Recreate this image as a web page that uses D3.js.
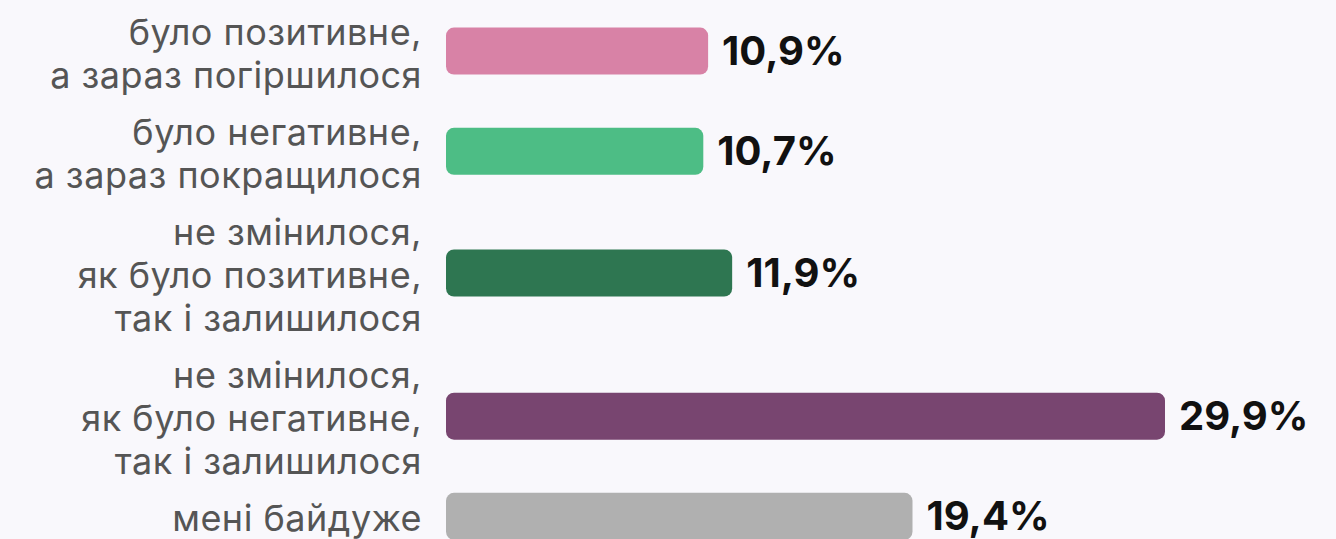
<!DOCTYPE html>
<html>
<head>
<meta charset="utf-8">
<script src="https://cdn.jsdelivr.net/npm/d3@7"></script>
<style>
  html, body { margin: 0; padding: 0; background: #f9f8fc; }
  svg { display: block; }
</style>
</head>
<body>
<svg id="chart" width="1336" height="539"></svg>
<script>
// DATA
const categories = [
  ["було позитивне,", "а зараз погіршилося"],
  ["було негативне,", "а зараз покращилося"],
  ["не змінилося,", "як було позитивне,", "так і залишилося"],
  ["не змінилося,", "як було негативне,", "так і залишилося"],
  ["мені байдуже"]
];
const values = [10.9, 10.7, 11.9, 29.9, 19.4];
const valueLabels = ["10,9%", "10,7%", "11,9%", "29,9%", "19,4%"];
const colors = ["#d882a6", "#4dbd85", "#2e7651", "#784570", "#b0b0b0"];

// CANVAS SETUP
const svg = d3.select("#chart");
const lineH = 43,
  gapUnits = 0.33,
  barH = 47,
  x0 = 446,
  labelX = 422;

// each block is as tall as its label lines plus a gap
const blocks = [];
let acc = 0;
categories.forEach((lines, i) => {
  const units = lines.length + gapUnits;
  blocks.push({ i, lines, start: acc, mid: acc + units / 2 });
  acc += units;
});

const yScale = d3
  .scaleLinear()
  .domain([0, acc])
  .range([1, 1 + acc * lineH]);

const xScale = d3
  .scaleLinear()
  .domain([0, 29.9])
  .range([x0, 1165]);

const g = svg.append("g");

// bars
g.selectAll("rect")
  .data(blocks)
  .join("rect")
  .attr("x", xScale(0))
  .attr("y", (d) => yScale(d.mid) - barH / 2)
  .attr("width", (d) => xScale(values[d.i]) - xScale(0))
  .attr("height", barH)
  .attr("rx", 8)
  .attr("fill", (d) => colors[d.i]);

// value labels
g.selectAll("text.val")
  .data(blocks)
  .join("text")
  .attr("class", "val")
  .attr("x", (d) => xScale(values[d.i]) + 14)
  .attr("y", (d) => yScale(d.mid) + 14)
  .attr("font-family", "Inter, 'Noto Sans', sans-serif")
  .attr("font-weight", 700)
  .attr("font-size", 40)
  .attr("fill", "#111")
  .text((d) => valueLabels[d.i]);

// category labels
const labels = g
  .selectAll("text.cat")
  .data(blocks)
  .join("text")
  .attr("class", "cat")
  .attr("text-anchor", "end")
  .attr("font-family", "Inter, 'Noto Sans', sans-serif")
  .attr("font-size", 36)
  .attr("letter-spacing", 0.5)
  .attr("fill", "#555");

labels
  .selectAll("tspan")
  .data((d) =>
    d.lines.map((t, j) => ({
      t,
      y: yScale(d.mid) + (j - (d.lines.length - 1) / 2) * lineH + 4,
    }))
  )
  .join("tspan")
  .attr("x", labelX)
  .attr("y", (d) => d.y + 11)
  .text((d) => d.t);
</script>
</body>
</html>
